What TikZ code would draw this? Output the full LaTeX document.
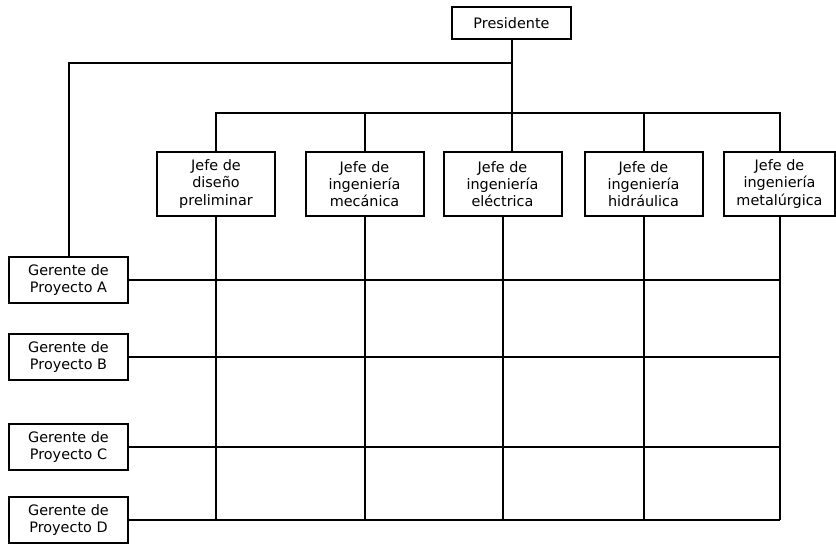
\documentclass[tikz,border=0pt]{standalone}
\usepackage{fontspec}
\setmainfont{DejaVu Sans}
\usetikzlibrary{positioning}

\begin{document}
\begin{tikzpicture}[x=0.75pt, y=-0.75pt, line width=1.5pt,
    caja/.style={draw, rectangle, align=center, inner sep=1pt,
        font=\fontsize{10.8}{12.8}\selectfont},
    jefe/.style={caja, minimum width=88.5pt, minimum height=48pt},
    gerente/.style={caja, minimum width=89pt, minimum height=35pt}]

    \useasboundingbox (0,0) rectangle (836,544);

    % Presidente
    \node[caja, minimum width=89pt, minimum height=24pt] (pres) at (511.5,23) {Presidente};

    % Jefes de area
    \node[jefe] (dis) at (216,184) {Jefe de\\diseño\\preliminar};
    \node[jefe] (mec) at (364.5,184) {Jefe de\\ingeniería\\mecánica};
    \node[jefe] (ele) at (502.5,184) {Jefe de\\ingeniería\\eléctrica};
    \node[jefe] (hid) at (643.5,184) {Jefe de\\ingeniería\\hidráulica};
    \node[jefe, minimum width=83pt] (met) at (779.5,184) {Jefe de\\ingeniería\\metalúrgica};

    % Gerentes de proyecto
    \node[gerente] (gA) at (68.5,280) {Gerente de\\Proyecto A};
    \node[gerente] (gB) at (68.5,357) {Gerente de\\Proyecto B};
    \node[gerente] (gC) at (68.5,447) {Gerente de\\Proyecto C};
    \node[gerente] (gD) at (68.5,520) {Gerente de\\Proyecto D};

    % Presidente hacia jefes y gerentes
    \coordinate (bus) at (511,113);
    \draw (pres.south) -- (pres.south |- ele.north);
    \draw (dis.north) |- (bus) -| (met.north);
    \draw (mec.north) -- (mec.north |- bus);
    \draw (hid.north) -- (hid.north |- bus);
    \draw (pres.south |- 0,63) -| (gA.north);

    % Matriz
    \foreach \j in {dis,mec,ele,hid,met} {
        \draw (\j.south) -- (\j.south |- gD.east);
    }
    \foreach \g in {gA,gB,gC,gD} {
        \draw (\g.east) -- (\g.east -| met.south);
    }

\end{tikzpicture}
\end{document}
